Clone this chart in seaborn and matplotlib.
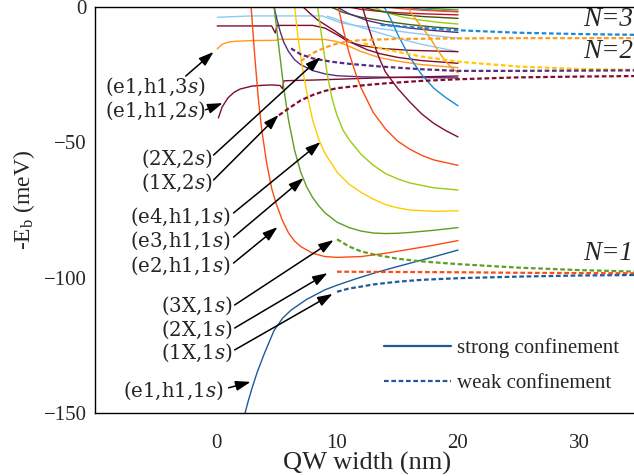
import matplotlib
matplotlib.use("Agg")
import matplotlib.pyplot as plt
from matplotlib.lines import Line2D
from matplotlib.ticker import MultipleLocator
import seaborn as sns

# ---------------- strong confinement (solid): QW width (nm) vs -E_b (meV) ----------------
e1h1_1s_w = [2.4, 2.7, 3.0, 3.4, 4.0, 4.8, 5.5, 6.2, 7.5, 9.0, 10.0, 11.5, 13.0, 14.5, 16.0, 18.0, 20.0]
e1h1_1s_E = [-150, -145, -140.5, -135, -128, -119.5, -115, -112, -108, -104.5, -102.8, -100.5, -98.4, -96.5, -94.7, -92.3, -89.8]

e2h1_1s_w = [2.9, 3.2, 3.5, 3.8, 4.2, 4.6, 5.0, 5.5, 6.0, 6.5, 7.0, 8.0, 9.0, 10.0, 12.0, 14.0, 16.0, 18.0, 20.0]
e2h1_1s_E = [0, -18, -34, -46, -58, -67, -73, -79, -83.5, -86.5, -88.5, -91, -92.2, -92.5, -92.2, -91, -89.5, -88, -86.3]

e3h1_1s_w = [4.8, 5.2, 5.6, 6.0, 6.5, 7.0, 7.5, 8.0, 8.5, 9.0, 10.0, 11.0, 12.0, 13.0, 14.0, 15.0, 16.0, 18.0, 20.0]
e3h1_1s_E = [0, -15, -30, -42, -53, -61, -66.5, -70.5, -73.5, -76, -79.5, -81.5, -82.8, -83.5, -83.7, -83.6, -83.3, -82.5, -81.5]

e4h1_1s_w = [6.5, 6.8, 7.2, 7.6, 8.0, 8.5, 9.0, 10.0, 11.0, 12.0, 13.0, 14.0, 15.0, 16.0, 18.0, 20.0]
e4h1_1s_E = [0, -12, -24, -34, -42, -49, -54, -61, -65.5, -68.5, -71, -73, -74.2, -75, -75.5, -75.3]

e5h1_1s_w = [8.4, 8.8, 9.2, 9.6, 10.0, 10.5, 11.0, 12.0, 13.0, 14.0, 15.0, 16.0, 18.0, 20.0]
e5h1_1s_E = [0, -13, -25, -34, -40, -45.5, -49, -54.5, -58.5, -61.5, -63.5, -65, -66.8, -67.6]

e6h1_1s_w = [10.1, 10.5, 11.0, 11.5, 12.0, 13.0, 14.0, 15.0, 16.0, 17.0, 18.0, 20.0]
e6h1_1s_E = [0, -8, -17, -24, -30, -39, -45, -49.5, -52.5, -54.8, -56.5, -58.5]

e7h1_1s_w = [12.1, 12.5, 13.0, 13.5, 14.0, 15.0, 16.0, 17.0, 18.0, 19.0, 20.0]
e7h1_1s_E = [0, -6, -13, -19, -24, -30, -35, -39.5, -43, -45.7, -48]

e8h1_1s_w = [13.9, 14.5, 15.0, 16.0, 17.0, 18.0, 19.0, 20.0]
e8h1_1s_E = [0, -5, -10, -18.5, -25, -30, -33.5, -36.5]

e9h1_1s_w = [15.8, 16.5, 17.2, 17.8, 18.4, 19.0, 19.5, 20.0]
e9h1_1s_E = [0, -4.5, -8.5, -12.2, -16.5, -20.3, -22.5, -24.3]

e1h1_2s_w = [0.2, 0.5, 1.0, 1.5, 2.0, 3.0, 4.0, 4.6, 5.3, 5.5, 5.6, 6.0, 8.0, 10.0, 12.0, 15.0, 20.0]
e1h1_2s_E = [-41, -37, -33.5, -31.5, -30.3, -29.2, -28.9, -28.8, -29.0, -30.2, -27.3, -27.2, -27.0, -26.7, -26.4, -26.0, -25.5]

e1h1_3s_w = [0.1, 0.5, 1.0, 1.5, 3.0, 5.0, 5.1, 9.0, 10.0, 11.0, 12.0, 13.5, 15.0, 17.0, 20.0]
e1h1_3s_E = [-15.5, -13.8, -13.0, -12.7, -12.4, -12.3, -11.9, -12.0, -12.8, -14.5, -16.5, -18.7, -20.0, -21.3, -22.4]

e1h1_4s_w = [0.1, 4.6, 4.9, 5.05, 8.0, 9.0, 9.5, 10.3, 10.9, 12.0, 13.6, 16.0, 20.0]
e1h1_4s_E = [-7.0, -7.0, -9.6, -6.8, -6.8, -7.8, -9.0, -11.0, -12.8, -14.2, -15.3, -16.0, -16.5]

e1h1_5s_w = [0.1, 2.9, 8.8, 9.5, 10.3, 11.5, 13.6, 16.0, 20.0]
e1h1_5s_E = [-3.8, -3.3, -3.3, -4.5, -5.8, -6.8, -8.0, -9.5, -11.6]

e1h1_6s_w = [9.2, 10.0, 11.0, 12.5, 13.6, 15.0, 17.0, 20.0]
e1h1_6s_E = [-3.4, -4.6, -6.2, -8.2, -9.7, -11.5, -13.8, -16.5]

x2_2s_w = [4.8, 5.0, 5.3, 5.6, 6.0, 6.5, 7.0, 8.0, 9.0, 10.0, 12.0, 15.0, 20.0]
x2_2s_E = [0, -4, -9, -13, -16.5, -19.5, -21.3, -23.5, -24.7, -25.4, -25.8, -26.0, -26.2]

x3_2s_w = [7.2, 7.8, 8.4, 9.0, 9.8, 10.5, 11.5, 12.5, 13.6, 15.0, 17.0, 20.0]
x3_2s_E = [0, -2.5, -4.8, -6.5, -8.8, -11.0, -13.8, -15.8, -17.3, -18.6, -19.8, -20.8]

# higher states crowding towards the continuum
h1_w = [9.5, 10.5, 12.0, 14.0, 16.0, 18.0, 20.0]
h1_E = [0, -2.0, -3.8, -5.3, -6.5, -7.4, -8.0]
h2_w = [11.0, 12.0, 13.5, 15.0, 17.0, 20.0]
h2_E = [0, -0.9, -1.6, -2.1, -2.5, -2.9]
h3_w = [15.5, 17.0, 18.5, 20.0]
h3_E = [0, -0.8, -1.3, -1.7]
h4_w = [13.0, 14.0, 15.5, 17.0, 18.5, 20.0]
h4_E = [0, -2.0, -3.8, -4.9, -5.7, -6.3]
h5_w = [12.0, 13.5, 15.0, 17.0, 20.0]
h5_E = [0, -1.5, -2.6, -3.5, -4.2]
h6_w = [10.0, 11.0, 12.5, 14.0, 16.0, 18.0, 20.0]
h6_E = [0, -2.5, -5.0, -6.5, -7.8, -8.7, -9.4]
h7_w = [14.0, 15.5, 17.0, 18.5, 20.0]
h7_E = [0, -0.7, -1.2, -1.5, -1.8]
h8_w = [16.5, 18.0, 20.0]
h8_E = [0, -0.6, -1.1]

# ---------------- weak confinement (dashed) ----------------
x1_1s_w = [10.0, 11.0, 12.0, 13.0, 15.0, 17.0, 20.0, 25.0, 30.0, 35.0]
x1_1s_E = [-105.2, -104.0, -103.3, -102.5, -101.5, -100.8, -100.2, -99.6, -99.2, -99.0]
x2_1s_w = [10.0, 15.0, 20.0, 25.0, 30.0, 35.0]
x2_1s_E = [-97.8, -97.9, -98.0, -98.2, -98.3, -98.4]
x3_1s_w = [10.0, 11.0, 12.0, 13.0, 15.0, 17.0, 20.0, 25.0, 30.0, 35.0]
x3_1s_E = [-85.8, -88.5, -90.3, -91.4, -93.0, -94.0, -95.0, -96.3, -97.2, -97.8]

x1_2s_w = [5.2, 6.0, 7.0, 8.0, 9.0, 10.0, 12.0, 14.0, 17.0, 20.0, 25.0, 30.0, 35.0]
x1_2s_E = [-40, -37.5, -34.5, -32.5, -31, -30, -29, -28.2, -27.3, -26.7, -26.0, -25.7, -25.5]
x2_2sw_w = [6.2, 7.0, 8.0, 9.5, 11.0, 13.6, 17.0, 20.0, 25.0, 30.0, 35.0]
x2_2sw_E = [-15.3, -17.5, -19.0, -20.2, -21.0, -22.0, -23.0, -23.6, -23.6, -23.5, -23.4]
x3_2sw_w = [12.2, 13.6, 15.0, 17.0, 20.0, 25.0, 30.0, 35.0]
x3_2sw_E = [-13.4, -15.3, -16.6, -18.3, -20.2, -22.0, -22.9, -23.3]

x1_3s_w = [7.0, 7.5, 8.0, 9.0, 10.0, 11.0, 12.0, 15.0, 20.0, 25.0, 30.0, 35.0]
x1_3s_E = [-20, -18.5, -17, -15, -13.5, -12.7, -12.2, -11.8, -11.6, -11.5, -11.5, -11.5]
x2_3s_w = [13.6, 16.0, 20.0, 25.0, 30.0, 35.0]
x2_3s_E = [-6.6, -7.4, -8.6, -9.5, -10.0, -10.3]

# colours
c_navy = "#1f5a99"
c_red = "#ff4a14"
c_green = "#5b9f23"
c_yellow = "#ffcc00"
c_lime = "#9acd0c"
c_maroon = "#800c2e"
c_purple = "#552d80"
c_sky = "#8ccaf5"
c_orange = "#ff9a1a"
c_blue = "#1a8ad8"
c_olive = "#4b5e14"
c_crimson = "#c0102a"
c_darkgreen = "#3d4f0a"

strong = [
    (h1_w, h1_E, c_olive), (h2_w, h2_E, c_crimson), (h3_w, h3_E, c_blue),
    (h4_w, h4_E, c_lime), (h5_w, h5_E, c_darkgreen), (h6_w, h6_E, c_purple),
    (h7_w, h7_E, c_red), (h8_w, h8_E, c_green),
    (e1h1_5s_w, e1h1_5s_E, c_sky), (e1h1_6s_w, e1h1_6s_E, c_sky),
    (e1h1_4s_w, e1h1_4s_E, c_maroon), (e1h1_3s_w, e1h1_3s_E, c_orange),
    (x3_2s_w, x3_2s_E, c_maroon), (x2_2s_w, x2_2s_E, c_purple),
    (e1h1_2s_w, e1h1_2s_E, c_maroon),
    (e9h1_1s_w, e9h1_1s_E, c_orange), (e8h1_1s_w, e8h1_1s_E, c_blue),
    (e7h1_1s_w, e7h1_1s_E, c_maroon), (e6h1_1s_w, e6h1_1s_E, c_red),
    (e5h1_1s_w, e5h1_1s_E, c_lime), (e4h1_1s_w, e4h1_1s_E, c_yellow),
    (e3h1_1s_w, e3h1_1s_E, c_green), (e2h1_1s_w, e2h1_1s_E, c_red),
    (e1h1_1s_w, e1h1_1s_E, c_navy),
]
weak = [
    (x2_3s_w, x2_3s_E, c_blue), (x1_3s_w, x1_3s_E, c_orange),
    (x3_2sw_w, x3_2sw_E, c_yellow), (x2_2sw_w, x2_2sw_E, c_purple),
    (x1_2s_w, x1_2s_E, c_maroon),
    (x3_1s_w, x3_1s_E, c_green), (x2_1s_w, x2_1s_E, c_red), (x1_1s_w, x1_1s_E, c_navy),
]

sns.set_theme(style="white")
plt.rcParams["font.family"] = ["Liberation Serif", "DejaVu Serif"]
plt.rcParams["mathtext.fontset"] = "custom"
plt.rcParams["mathtext.rm"] = "Liberation Serif"
plt.rcParams["mathtext.it"] = "DejaVu Serif:italic"

W, H = 634, 476
fig = plt.figure(figsize=(W / 100, H / 100), dpi=100)
ax = fig.add_axes([95 / W, 63 / H, 544.5 / W, 406 / H])

DASH = (0, (2.1, 1.2))
for w, E, col in strong:
    sns.lineplot(x=w, y=E, ax=ax, color=col, lw=1.0, sort=False, estimator=None)
for w, E, col in weak:
    sns.lineplot(x=w, y=E, ax=ax, color=col, lw=1.6, linestyle=DASH, sort=False, estimator=None)

ax.set_xlim(-10, 35)
ax.set_ylim(-150, 0)
ax.xaxis.set_minor_locator(MultipleLocator(5))
ax.yaxis.set_major_locator(MultipleLocator(50))
ax.yaxis.set_minor_locator(MultipleLocator(25))
ax.set_xticks([0, 10, 20, 30])
ax.tick_params(which="both", direction="in", color="black", width=1.0)
ax.tick_params(axis="x", which="major", length=5, pad=15, labelsize=15)
ax.tick_params(axis="x", which="minor", length=3)
ax.tick_params(axis="y", which="major", length=4.5, pad=6, labelsize=15)
ax.tick_params(axis="y", which="minor", length=4.5)
for s in ["left", "bottom", "top"]:
    ax.spines[s].set_color("black")
    ax.spines[s].set_linewidth(1.0)
ax.spines["right"].set_visible(False)

ax.set_xlabel("QW width (nm)", fontsize=19)
ax.xaxis.set_label_coords(0.5, -0.096)
ax.set_ylabel("-E$_\\mathrm{b}$ (meV)", fontsize=17)
ax.yaxis.set_label_coords(-0.106, 0.525)

# state labels with arrows
lab_font = dict(family="DejaVu Serif", fontsize=14.2, ha="right", va="center")
labels = [
    ("(e1,h1,3$s$)", (-0.86, -29.5), (-2.5, -25.5), (-0.2, -16.6)),
    ("(e1,h1,2$s$)", (-0.86, -38.2), (-0.86, -38.0), (0.55, -35.5)),
    ("(2X,2$s$)", (-0.31, -56.2), (-0.2, -54.7), (8.64, -18.5)),
    ("(1X,2$s$)", (-0.31, -65.0), (-0.2, -63.9), (5.17, -39.9)),
    ("(e4,h1,1$s$)", (1.2, -77.6), (1.45, -76.1), (8.64, -49.9)),
    ("(e3,h1,1$s$)", (1.2, -86.4), (1.45, -85.0), (7.24, -63.2)),
    ("(e2,h1,1$s$)", (1.2, -95.7), (1.45, -94.6), (5.09, -81.3)),
    ("(3X,1$s$)", (1.37, -110.5), (1.54, -110.1), (9.72, -86.1)),
    ("(2X,1$s$)", (1.37, -119.3), (1.54, -118.6), (9.22, -98.3)),
    ("(1X,1$s$)", (1.37, -127.8), (1.54, -126.7), (9.64, -106.0)),
    ("(e1,h1,1$s$)", (0.63, -141.9), (1.04, -140.7), (2.86, -138.5)),
]
for txt, tpos, tail, tip in labels:
    ax.text(tpos[0], tpos[1], txt, **lab_font)
    ax.annotate("", xy=tip, xytext=tail,
                arrowprops=dict(arrowstyle="-|>,head_length=0.75,head_width=0.25",
                                color="black", lw=1.1, shrinkA=0, shrinkB=0))

for txt, y in [("N=3", -4.8), ("N=2", -16.6), ("N=1", -90.9)]:
    ax.text(34.45, y, txt, fontsize=19.5, fontstyle="italic", ha="right", va="center")

handles = [Line2D([], [], color=c_navy, lw=1.6),
           Line2D([], [], color=c_navy, lw=1.6, linestyle=DASH)]
ax.legend(handles, ["strong confinement", "weak confinement"], loc="upper left",
          bbox_to_anchor=(0.531, 0.185), frameon=False, fontsize=15,
          handlelength=3.2, handletextpad=0.3, labelspacing=0.75,
          borderpad=0, borderaxespad=0)

fig.savefig("out.png", dpi=100)
